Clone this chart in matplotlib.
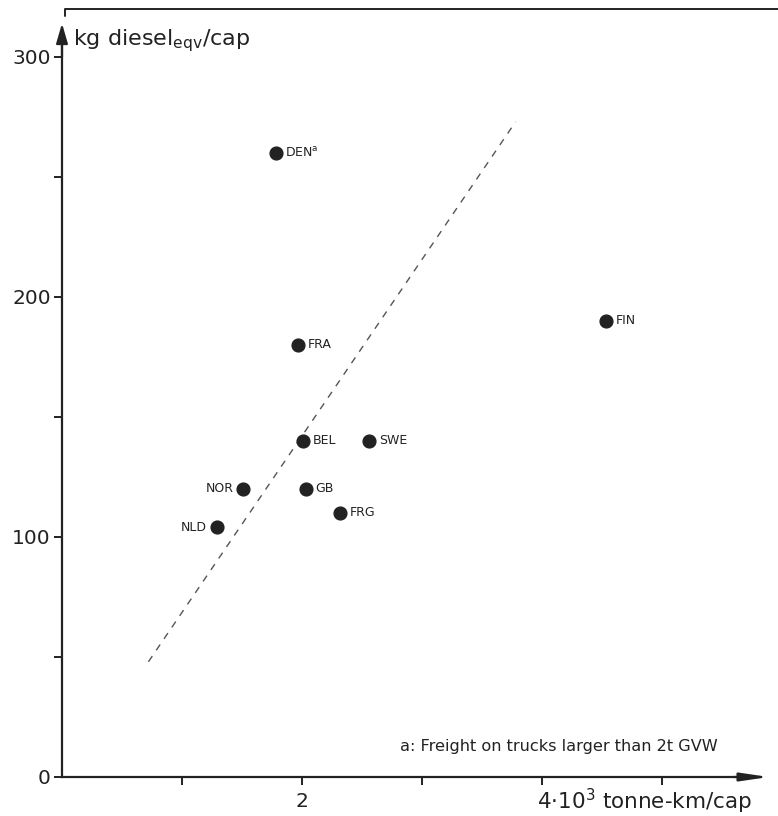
import matplotlib
matplotlib.use('Agg')
import matplotlib.pyplot as plt

# freight transport vs diesel use, per capita
countries = ['DEN', 'FRA', 'FIN', 'BEL', 'SWE', 'NOR', 'GB', 'FRG', 'NLD']
tonne_km = [1.78, 1.97, 4.53, 2.01, 2.56, 1.51, 2.03, 2.32, 1.29]
diesel = [260, 180, 190, 140, 140, 120, 120, 110, 104]
label_text = [r'DEN$^{\mathrm{a}}$', 'FRA', 'FIN', 'BEL', 'SWE', 'NOR', 'GB', 'FRG', 'NLD']
label_side = ['right', 'right', 'right', 'right', 'right', 'left', 'right', 'right', 'left']

# dashed regression line
trend_x = [0.72, 3.78]
trend_y = [48, 273]

x_ticks = [1, 2, 3, 4, 5]
x_ticklabels = ['', '2', '', '', '']
y_major = [0, 100, 200, 300]
y_minor = [50, 150, 250]

ink = '#222222'
plt.rcParams['font.family'] = ['DejaVu Sans']

fig = plt.figure(figsize=(7.78, 8.16), dpi=100)
ax = fig.add_axes([0, 0, 1, 1])
ax.patch.set_visible(False)
ax.set_xlim(-62 / 120, 716 / 120)
ax.set_ylim(-39 / 2.4, 777 / 2.4)

# axes as arrows through the origin
for side in ['top', 'right']:
    ax.spines[side].set_visible(False)
ax.spines['left'].set_position(('data', 0))
ax.spines['bottom'].set_position(('data', 0))
ax.spines['left'].set_bounds(0, 308)
ax.spines['bottom'].set_bounds(0, 5.75)
for side in ['left', 'bottom']:
    ax.spines[side].set_color(ink)
    ax.spines[side].set_linewidth(1.6)

ax.annotate('', xy=(0, 314), xytext=(0, 300),
            arrowprops=dict(arrowstyle='-|>,head_length=1.2,head_width=0.35',
                            color=ink, lw=1.6, shrinkA=0, shrinkB=0))
ax.annotate('', xy=(5.89, 0), xytext=(5.6, 0),
            arrowprops=dict(arrowstyle='-|>,head_length=1.7,head_width=0.25',
                            color=ink, lw=1.6, shrinkA=0, shrinkB=0))

ax.set_xticks(x_ticks)
ax.set_xticklabels(x_ticklabels)
ax.set_yticks(y_major)
ax.set_yticks(y_minor, minor=True)
ax.tick_params(axis='both', which='both', direction='out', color=ink, width=1.4,
               labelcolor=ink, labelsize=14.5)
ax.tick_params(axis='y', which='both', length=6, pad=2)
ax.tick_params(axis='x', which='both', length=6, pad=5)

# scanned page border at the top
ax.plot([0.025, 0.025, 5.97], [317, 320, 320], color=ink, lw=1.4, solid_capstyle='round')

ax.plot(trend_x, trend_y, linestyle=(0, (5, 5)), color='#555555', lw=1)

ax.plot(tonne_km, diesel, 'o', color=ink, markersize=9.2, linestyle='none')
for x, y, txt, side in zip(tonne_km, diesel, label_text, label_side):
    dx = 7 if side == 'right' else -7
    ax.annotate(txt, (x, y), xytext=(dx, 0), textcoords='offset points',
                ha='left' if side == 'right' else 'right', va='center',
                fontsize=9, color=ink)

ax.text(0.09, 305, r'kg diesel$_{\mathrm{eqv}}$/cap', fontsize=16, color=ink,
        va='baseline', ha='left')
ax.text(3.958, -13.3, r'4·10$^{3}$ tonne-km/cap', fontsize=15.5, color=ink,
        va='baseline', ha='left')
ax.text(2.817, 12.9, 'a: Freight on trucks larger than 2t GVW', fontsize=11.6,
        color=ink, va='center', ha='left')

fig.savefig('out.png', dpi=100)
